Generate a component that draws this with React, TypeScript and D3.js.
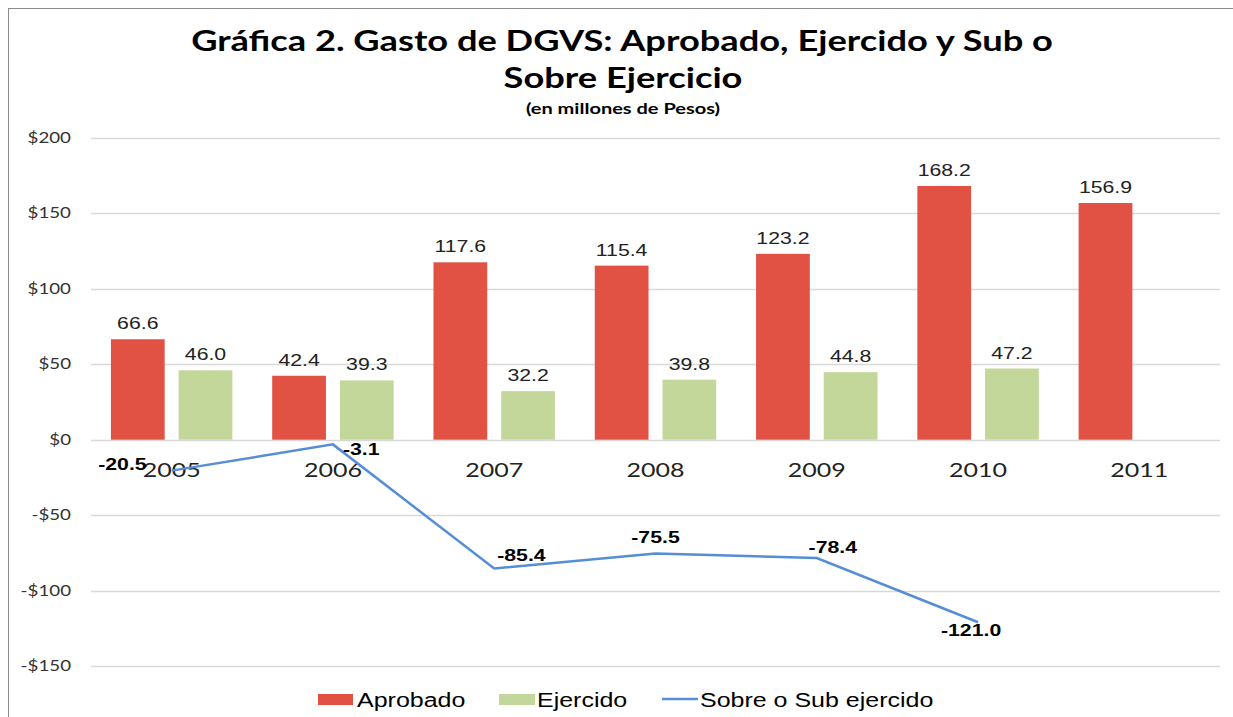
import React, { useEffect, useRef } from 'react';
import * as d3 from 'd3';

// data
const years = ['2005', '2006', '2007', '2008', '2009', '2010', '2011'];
const aprobado = [66.6, 42.4, 117.6, 115.4, 123.2, 168.2, 156.9];
const ejercido = [46.0, 39.3, 32.2, 39.8, 44.8, 47.2, null];
const sobreSub = [-20.5, -3.1, -85.4, -75.5, -78.4, -121.0];
const yTicks = [-150, -100, -50, 0, 50, 100, 150, 200];

// where each line label sits relative to its point: [dx, dy, anchor]
const lineLabelPos: [number, number, string][] = [
    [-25, -1, 'end'],
    [10, 11, 'start'],
    [3, -8, 'start'],
    [0, -11, 'middle'],
    [16, -5, 'middle'],
    [-7, 14, 'middle'],
];

const RED = '#E15244';
const GREEN = '#C4D79B';
const BLUE = '#558ED5';
const SX = 1.25; // the reference is stretched horizontally

function App() {
    const ref = useRef<SVGSVGElement>(null);
    const width = 1233;
    const height = 717;

    useEffect(() => {
        const svg = d3.select(ref.current);
        svg.selectAll('*').remove();

        const x = d3.scaleBand().domain(years).range([91, 1220]).padding(0);
        const inner = d3
            .scaleBand()
            .domain(['a', 'e'])
            .range([0, x.bandwidth()])
            .paddingInner(0.206)
            .paddingOuter(0.294);
        const y = d3.scaleLinear().domain([-150, 200]).range([666, 138]);

        // helper: horizontally stretched text
        const txt = (g: any, px: number, py: number, s: string, opts: any) => {
            const t = g
                .append('g')
                .attr('transform', `translate(${px},${py}) scale(${SX},1)`)
                .append('text')
                .attr('text-anchor', opts.anchor || 'middle')
                .attr('font-family', opts.family || 'Liberation Sans, Arial, sans-serif')
                .attr('font-size', opts.size)
                .attr('font-weight', opts.weight || 'normal')
                .attr('fill', opts.fill || '#000')
                .text(s);
            return t;
        };

        svg.append('rect')
            .attr('x', 8.5)
            .attr('y', 8.5)
            .attr('width', 1240)
            .attr('height', 720)
            .attr('fill', '#fff')
            .attr('stroke', '#8c8c8c')
            .attr('stroke-width', 1);

        // title
        const calibri = 'Lato, "Open Sans", sans-serif';
        txt(svg, 622, 51, 'Gráfica 2. Gasto de DGVS: Aprobado, Ejercido y Sub o', {
            size: 29, weight: 'bold', family: calibri,
        });
        txt(svg, 623, 88, 'Sobre Ejercicio', { size: 29, weight: 'bold', family: calibri });
        txt(svg, 623, 114, '(en millones de Pesos)', { size: 16, weight: 'bold', family: calibri });

        // grid + y labels
        svg.append('g')
            .selectAll('line')
            .data(yTicks)
            .enter()
            .append('line')
            .attr('x1', 91)
            .attr('x2', 1220)
            .attr('y1', (d) => Math.round(y(d)) + 0.5)
            .attr('y2', (d) => Math.round(y(d)) + 0.5)
            .attr('stroke', '#d9d9d9')
            .attr('stroke-width', 1.5);

        yTicks.forEach((d) => {
            const lbl = d < 0 ? `-$${-d}` : `$${d}`;
            txt(svg, 71, y(d) + 5, lbl, { size: 15, anchor: 'end', family: calibri, fill: '#333' });
        });

        // bars
        const bars = svg.append('g');
        years.forEach((yr, i) => {
            const x0 = x(yr) as number;
            const a = aprobado[i];
            bars.append('rect')
                .attr('x', x0 + (inner('a') as number))
                .attr('y', y(a))
                .attr('width', inner.bandwidth())
                .attr('height', y(0) - y(a))
                .attr('fill', RED);
            txt(bars, x0 + (inner('a') as number) + inner.bandwidth() / 2, y(a) - 10, a.toFixed(1), {
                size: 17, fill: '#222',
            });
            const e = ejercido[i];
            if (e != null) {
                bars.append('rect')
                    .attr('x', x0 + (inner('e') as number))
                    .attr('y', y(e))
                    .attr('width', inner.bandwidth())
                    .attr('height', y(0) - y(e))
                    .attr('fill', GREEN);
                txt(bars, x0 + (inner('e') as number) + inner.bandwidth() / 2, y(e) - 10, e.toFixed(1), {
                    size: 17, fill: '#222',
                });
            }
        });

        // x labels
        years.forEach((yr) => {
            txt(svg, (x(yr) as number) + x.bandwidth() / 2, 477, yr, { size: 20, family: calibri, fill: '#222' });
        });

        // line
        const cx = (i: number) => (x(years[i]) as number) + x.bandwidth() / 2;
        const line = d3
            .line<number>()
            .x((_, i) => cx(i))
            .y((d) => y(d));
        svg.append('path')
            .datum(sobreSub)
            .attr('d', line)
            .attr('fill', 'none')
            .attr('stroke', BLUE)
            .attr('stroke-width', 2.5);

        sobreSub.forEach((v, i) => {
            const [dx, dy, anchor] = lineLabelPos[i];
            txt(svg, cx(i) + dx, y(v) + dy, v.toFixed(1), {
                size: 17, weight: 'bold', anchor,
            });
        });

        // legend
        const leg = svg.append('g');
        leg.append('rect').attr('x', 318).attr('y', 694).attr('width', 35).attr('height', 11).attr('fill', RED);
        txt(leg, 357, 707, 'Aprobado', { size: 20, anchor: 'start' });
        leg.append('rect').attr('x', 499).attr('y', 694).attr('width', 36).attr('height', 11).attr('fill', GREEN);
        txt(leg, 537, 707, 'Ejercido', { size: 20, anchor: 'start' });
        leg.append('line').attr('x1', 662).attr('x2', 698).attr('y1', 699).attr('y2', 699)
            .attr('stroke', BLUE).attr('stroke-width', 2.5);
        txt(leg, 700, 707, 'Sobre o Sub ejercido', { size: 20, anchor: 'start' });
    }, []);

    return (
        <svg
            ref={ref}
            width={width}
            height={height}
            style={{ position: 'absolute', left: 0, top: 0, background: '#fff' }}
        />
    );
}

export default App;
